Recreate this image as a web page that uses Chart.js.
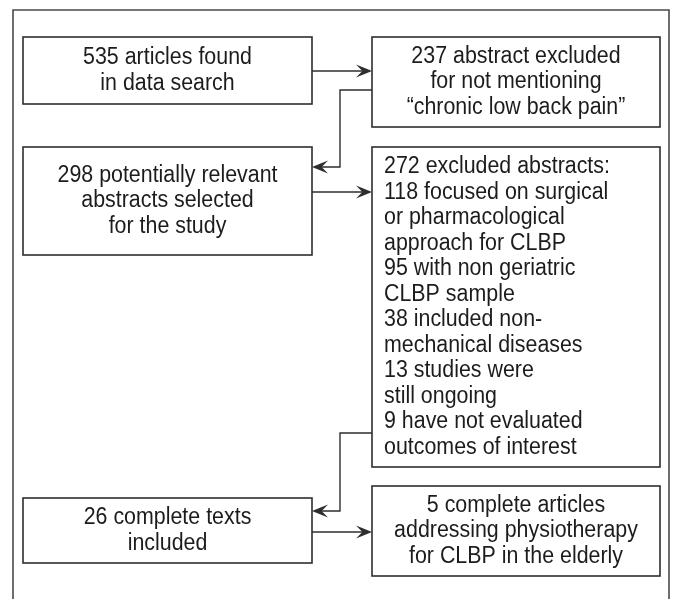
<!DOCTYPE html>
<html>
<head>
<meta charset="utf-8">
<script src="https://cdn.jsdelivr.net/npm/chart.js@4/dist/chart.umd.min.js"></script>
<style>
  html, body { margin: 0; padding: 0; background: #fff; }
  #flow { display: block; }
</style>
</head>
<body>
<canvas id="flow" width="673" height="599"></canvas>
<script>
// Box contents (one entry per line)
const boxLabels = [
  ["535 articles found", "in data search"],
  ["237 abstract excluded", "for not mentioning", "\u201Cchronic low back pain\u201D"],
  ["298 potentially relevant", "abstracts selected", "for the study"],
  ["272 excluded abstracts:", "118 focused on surgical", "or pharmacological", "approach for CLBP",
   "95 with non geriatric", "CLBP sample", "38 included non-", "mechanical diseases",
   "13 studies were", "still ongoing", "9 have not evaluated", "outcomes of interest"],
  ["26 complete texts", "included"],
  ["5 complete articles", "addressing physiotherapy", "for CLBP in the elderly"],
];
// Links between boxes: [from, to]
const links = [[0, 1], [1, 2], [2, 3], [3, 4], [4, 5]];

// Layout in axis units: left, right, top, bottom
const boxRects = [
  [23, 312, 37, 104],
  [372, 660, 37, 127],
  [23, 312, 147, 255],
  [372, 660, 147, 467],
  [23, 312, 498, 563],
  [372, 660, 486, 576],
];
const boxAlign = ["center", "center", "center", "left", "center", "center"];
// y at which each link leaves / enters, and the x of the elbow for back links
const linkRows = [[71, 71], [90, 167], [192, 192], [433, 511], [532, 532]];
const elbowX = 340;
const frameRect = [13, 669, 10, 610];

const LINE = "#2e2e2e";
const TEXT = "#1c1c1c";
const FONT = '23px "Liberation Sans", Arial, sans-serif';
const SQUEEZE = 0.93; // the original face is a little narrower than Liberation Sans
const LINE_H = 25.5;

function arrowHead(ctx, tx, ty, dir) {
  const L = 16, W = 6.5;
  ctx.beginPath();
  ctx.moveTo(tx, ty);
  ctx.lineTo(tx - dir * L, ty - W);
  ctx.lineTo(tx - dir * L * 0.6, ty);
  ctx.lineTo(tx - dir * L, ty + W);
  ctx.closePath();
  ctx.fill();
}

function squeezedText(ctx, t, x, y) {
  ctx.save();
  ctx.translate(x, y);
  ctx.scale(SQUEEZE, 1);
  ctx.fillText(t, 0, 0);
  ctx.restore();
}

const flowPlugin = {
  id: "flow",
  beforeDraw(chart) {
    const { ctx, width, height } = chart;
    ctx.save();
    ctx.fillStyle = "#fff";
    ctx.fillRect(0, 0, width, height);
    ctx.restore();
  },
  afterDatasetsDraw(chart) {
    const { ctx } = chart;
    const xs = chart.scales.x, ys = chart.scales.y;
    const px = (v) => xs.getPixelForValue(v);
    const py = (v) => ys.getPixelForValue(v);

    ctx.save();
    ctx.strokeStyle = "#4a4a4a";
    ctx.lineWidth = 1.6;
    const [fl, fr, ft, fb] = frameRect;
    ctx.beginPath();
    ctx.moveTo(px(fl), py(fb));
    ctx.lineTo(px(fl), py(ft));
    ctx.lineTo(px(fr), py(ft));
    ctx.lineTo(px(fr), py(fb));
    ctx.stroke();

    // boxes
    ctx.strokeStyle = LINE;
    ctx.lineWidth = 1.6;
    ctx.font = FONT;
    ctx.fillStyle = TEXT;
    ctx.textBaseline = "middle";
    boxRects.forEach((r, i) => {
      const x0 = px(r[0]), x1 = px(r[1]), y0 = py(r[2]), y1 = py(r[3]);
      ctx.strokeRect(x0, y0, x1 - x0, y1 - y0);
      const lines = boxLabels[i];
      const cy = (y0 + y1) / 2;
      const first = cy - ((lines.length - 1) * LINE_H) / 2;
      ctx.textAlign = boxAlign[i];
      const tx = boxAlign[i] === "left" ? x0 + 12 : (x0 + x1) / 2;
      lines.forEach((t, k) => squeezedText(ctx, t, tx, first + k * LINE_H));
    });

    // links
    ctx.fillStyle = LINE;
    ctx.lineWidth = 1.4;
    links.forEach(([a, b], i) => {
      const ra = boxRects[a], rb = boxRects[b];
      const [ya, yb] = linkRows[i];
      ctx.beginPath();
      if (ra[0] < rb[0]) {
        // left column to right column
        ctx.moveTo(px(ra[1]), py(ya));
        ctx.lineTo(px(rb[0]) - 6, py(yb));
        ctx.stroke();
        arrowHead(ctx, px(rb[0]), py(yb), 1);
      } else {
        // right column back to next left box
        ctx.moveTo(px(ra[0]), py(ya));
        ctx.lineTo(px(elbowX), py(ya));
        ctx.lineTo(px(elbowX), py(yb));
        ctx.lineTo(px(rb[1]) + 6, py(yb));
        ctx.stroke();
        arrowHead(ctx, px(rb[1]), py(yb), -1);
      }
    });
    ctx.restore();
  },
};

new Chart(document.getElementById("flow"), {
  type: "scatter",
  data: { datasets: [] },
  options: {
    responsive: false,
    animation: false,
    layout: { padding: 0 },
    plugins: { legend: { display: false }, tooltip: { enabled: false } },
    scales: {
      x: { type: "linear", min: 0, max: 673, display: false },
      y: { type: "linear", min: 0, max: 599, reverse: true, display: false },
    },
  },
  plugins: [flowPlugin],
});
</script>
</body>
</html>
